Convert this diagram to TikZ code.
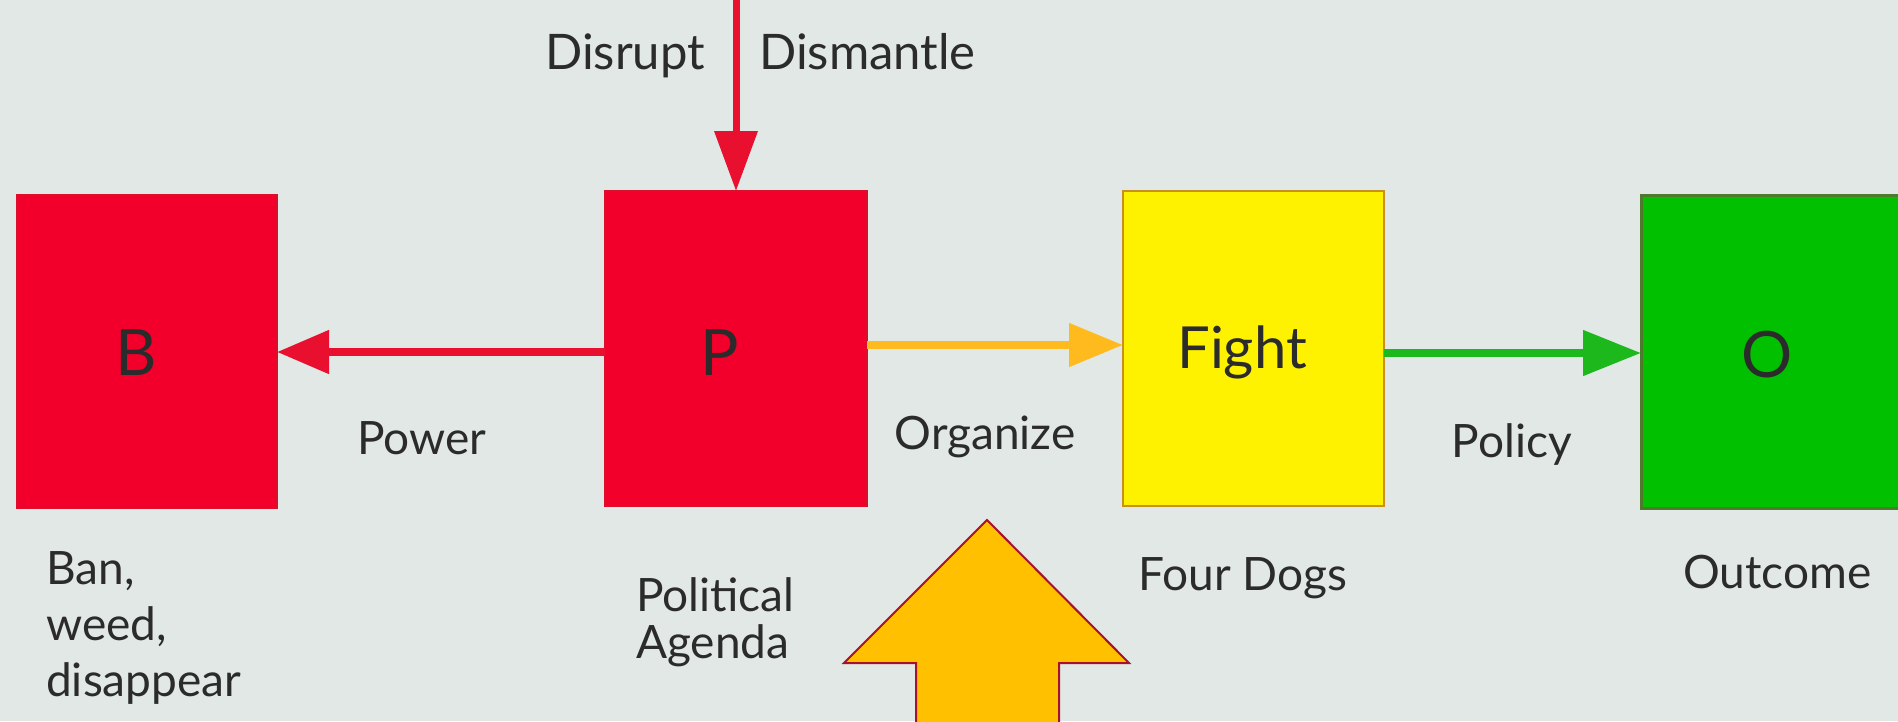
\documentclass[tikz,border=0pt]{standalone}
\usepackage{fontspec}
\setmainfont{Lato}
\usetikzlibrary{arrows.meta}
\definecolor{bg}{HTML}{E1E8E5}
\definecolor{boxred}{HTML}{F2002B}
\definecolor{redline}{HTML}{D8102C}
\definecolor{arrred}{HTML}{E8102E}
\definecolor{amber}{HTML}{FFBA1E}
\definecolor{grn}{HTML}{1CB81C}
\definecolor{boxgreen}{HTML}{00C000}
\definecolor{greenline}{HTML}{4F7A2E}
\definecolor{yelline}{HTML}{C8901E}
\definecolor{bigfill}{HTML}{FFC000}
\definecolor{bigline}{HTML}{A8102C}
\definecolor{txt}{HTML}{2B2B2B}
\begin{document}
\begin{tikzpicture}[x=1pt,y=-1pt,
  box/.style={minimum width=260pt,minimum height=313pt,inner sep=0pt,outer sep=0pt,line width=2pt},
  bigletter/.style={font=\fontsize{64}{64}\selectfont,text=txt,inner sep=0pt},
  lbl/.style={font=\fontsize{46}{55}\selectfont,text=txt,inner sep=0pt},
  conn/.style={line width=8pt},
]
\useasboundingbox (0,0) rectangle (1898,721);
\fill[bg] (0,0) rectangle (1898,721);

% boxes
\node[box,fill=boxred,draw=redline] (B) at (147,351.5) {};
\node[box,fill=boxred,draw=redline,minimum width=262pt,minimum height=315pt] (P) at (736,348.5) {};
\node[box,fill=yellow,draw=yelline,minimum width=261pt,minimum height=315pt] (F) at (1253.5,348.5) {};
\node[box,fill=boxgreen,draw=greenline,line width=3pt] (O) at (1771,351.5) {};

% letters in boxes
\node[bigletter] (Bt) at (136,353) {B};
\node[bigletter] (Pt) at (720,353) {P};
\node[bigletter,font=\fontsize{58}{58}\selectfont] (Ft) at (1242,352) {Fight};
\node[bigletter] (Ot) at (1767,355) {O};

% connectors
\coordinate (top) at (736,-5);
\draw[conn,line width=7pt,arrred,-{Triangle[length=60pt,width=42pt]}] (top) -- (P.north);
\draw[conn,arrred,-{Triangle[length=52pt,width=42pt]}] ([yshift=-3.5pt]P.west) -- ([yshift=-0.5pt]B.east);
\draw[conn,amber,-{Triangle[length=54pt,width=42pt]}] ([yshift=3.5pt]P.east) -- ([yshift=3.5pt]F.west);
\draw[conn,grn,-{Triangle[length=58pt,width=44pt]}] ([yshift=-4.5pt]F.east) -- ([yshift=-1.5pt]O.west);

% connector labels
\node[lbl,font=\fontsize{49}{49}\selectfont,anchor=base east] (dis) at (705,69) {Disrupt};
\node[lbl,font=\fontsize{49}{49}\selectfont,anchor=base west] (dism) at (759,69) {Dismantle};
\node[lbl,anchor=base] (pow) at (422,454) {Power};
\node[lbl,anchor=base] (org) at (985,449) {Organize};
\node[lbl,anchor=base] (pol) at (1512,457) {Policy};

% labels under boxes
\node[lbl,font=\fontsize{46}{56}\selectfont,anchor=north west,align=left] (ban) at (46,551) {Ban,\\weed,\\disappear};
\node[lbl,font=\fontsize{46}{47}\selectfont,anchor=north west,align=left] (pa) at (636,577) {Political\\Agenda};
\node[lbl,anchor=base west] (fd) at (1138,590) {Four Dogs};
\node[lbl,anchor=base west] (oc) at (1683,588) {Outcome};

% big up arrow
\draw[fill=bigfill,draw=bigline,line width=2pt,line join=miter]
  (987,520) -- (1129,663) -- (1059,663) -- (1059,730) -- (916,730) -- (916,663) -- (844,663) -- cycle;
\end{tikzpicture}
\end{document}
